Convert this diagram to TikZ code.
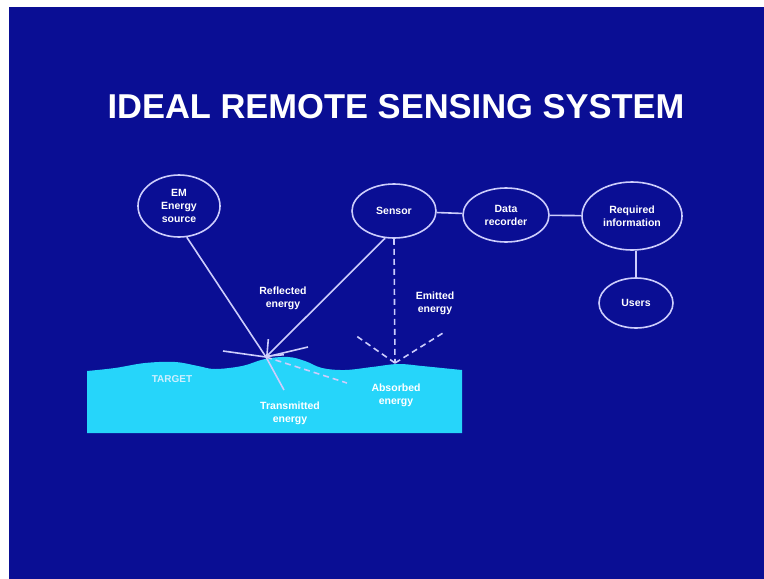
\documentclass[tikz,border=0pt]{standalone}
\usepackage{fontspec}
\setmainfont{Liberation Sans}
\usetikzlibrary{shapes.geometric,arrows.meta}
\definecolor{bgblue}{RGB}{10,14,148}
\definecolor{lav}{RGB}{205,205,252}
\definecolor{cyanT}{RGB}{38,213,250}
\definecolor{tgtxt}{RGB}{205,240,255}
\tikzset{
  ell/.style={ellipse, draw=lav, line width=1.6pt, inner sep=0pt},
  lbl/.style={text=white, font=\bfseries\fontsize{10.5}{13}\selectfont, align=center, inner sep=0pt},
  ray/.style={draw=lav, line width=1.6pt},
  dray/.style={draw=lav, line width=1.6pt, dash pattern=on 6pt off 4pt}
}
\begin{document}
\begin{tikzpicture}[x=1pt,y=-1pt]
\useasboundingbox (0,0) rectangle (764,579);
\fill[white] (0,0) rectangle (764,579);
\fill[bgblue] (9,7) rectangle (764,579);

% title
\node[text=white, font=\bfseries\fontsize{34.5}{40}\selectfont, inner sep=0pt] (title) at (396,107) {IDEAL REMOTE SENSING SYSTEM};

% target
\fill[cyanT] plot[smooth, tension=0.6] coordinates {(87,371) (115,368) (145,363) (175,362) (198,366) (215,369) (242,366) (265,359) (288,357) (305,361) (322,368) (345,370) (372,367) (398,364) (422,366) (442,368) (462,370)}
  -- (462,433) -- (87,433) -- cycle;
\node[text=tgtxt, font=\bfseries\fontsize{10}{12}\selectfont, inner sep=0pt] (target) at (172,379) {TARGET};

% ellipses
\node[ell, minimum width=82pt, minimum height=62pt] (em) at (179,206) {};
\node[lbl] (emt) at (em) {EM\\Energy\\source};
\node[ell, minimum width=84pt, minimum height=54pt] (sensor) at (394,211) {};
\node[lbl] (sensort) at (sensor) {Sensor};
\node[ell, minimum width=86pt, minimum height=54pt] (data) at (506,215) {};
\node[lbl] (datat) at (data) {Data\\recorder};
\node[ell, minimum width=100pt, minimum height=68pt] (req) at (632,216) {};
\node[lbl] (reqt) at (req) {Required\\information};
\node[ell, minimum width=74pt, minimum height=50pt] (users) at (636,303) {};
\node[lbl] (userst) at (users) {Users};

\draw[ray] (sensor) -- (data);
\draw[ray] (data) -- (req);
\draw[ray] (req.south -| users.north) -- (users.north);

% hit point
\coordinate (hit) at (266,357);
\coordinate (scl) at (223,351);
\coordinate (scr) at (308,347);
\coordinate (trans) at (284,390);
\coordinate (abs) at (347,383);
\draw[ray] (em.284) -- (hit);
\draw[ray, -{Straight Barb[length=13pt, width=22pt, line width=1.6pt]}] (sensor.252) -- (hit);
\draw[ray] (hit) -- (scl);
\draw[ray] (hit) -- (scr);
\draw[ray] (hit) -- (trans);
\draw[dray] (hit) -- (abs);

% emitted
\coordinate (emit) at (395,363);
\coordinate (eml) at (355,335);
\coordinate (emr) at (443,333);
\draw[dray] (sensor.south) -- (emit);
\draw[dray] (emit) -- (eml);
\draw[dray] (emit) -- (emr);

% labels
\node[lbl] (refl) at (283,298) {Reflected\\energy};
\node[lbl] (emitl) at (435,303) {Emitted\\energy};
\node[lbl] (transl) at (290,413) {Transmitted\\energy};
\node[lbl] (absl) at (396,395) {Absorbed\\energy};
\end{tikzpicture}
\end{document}
